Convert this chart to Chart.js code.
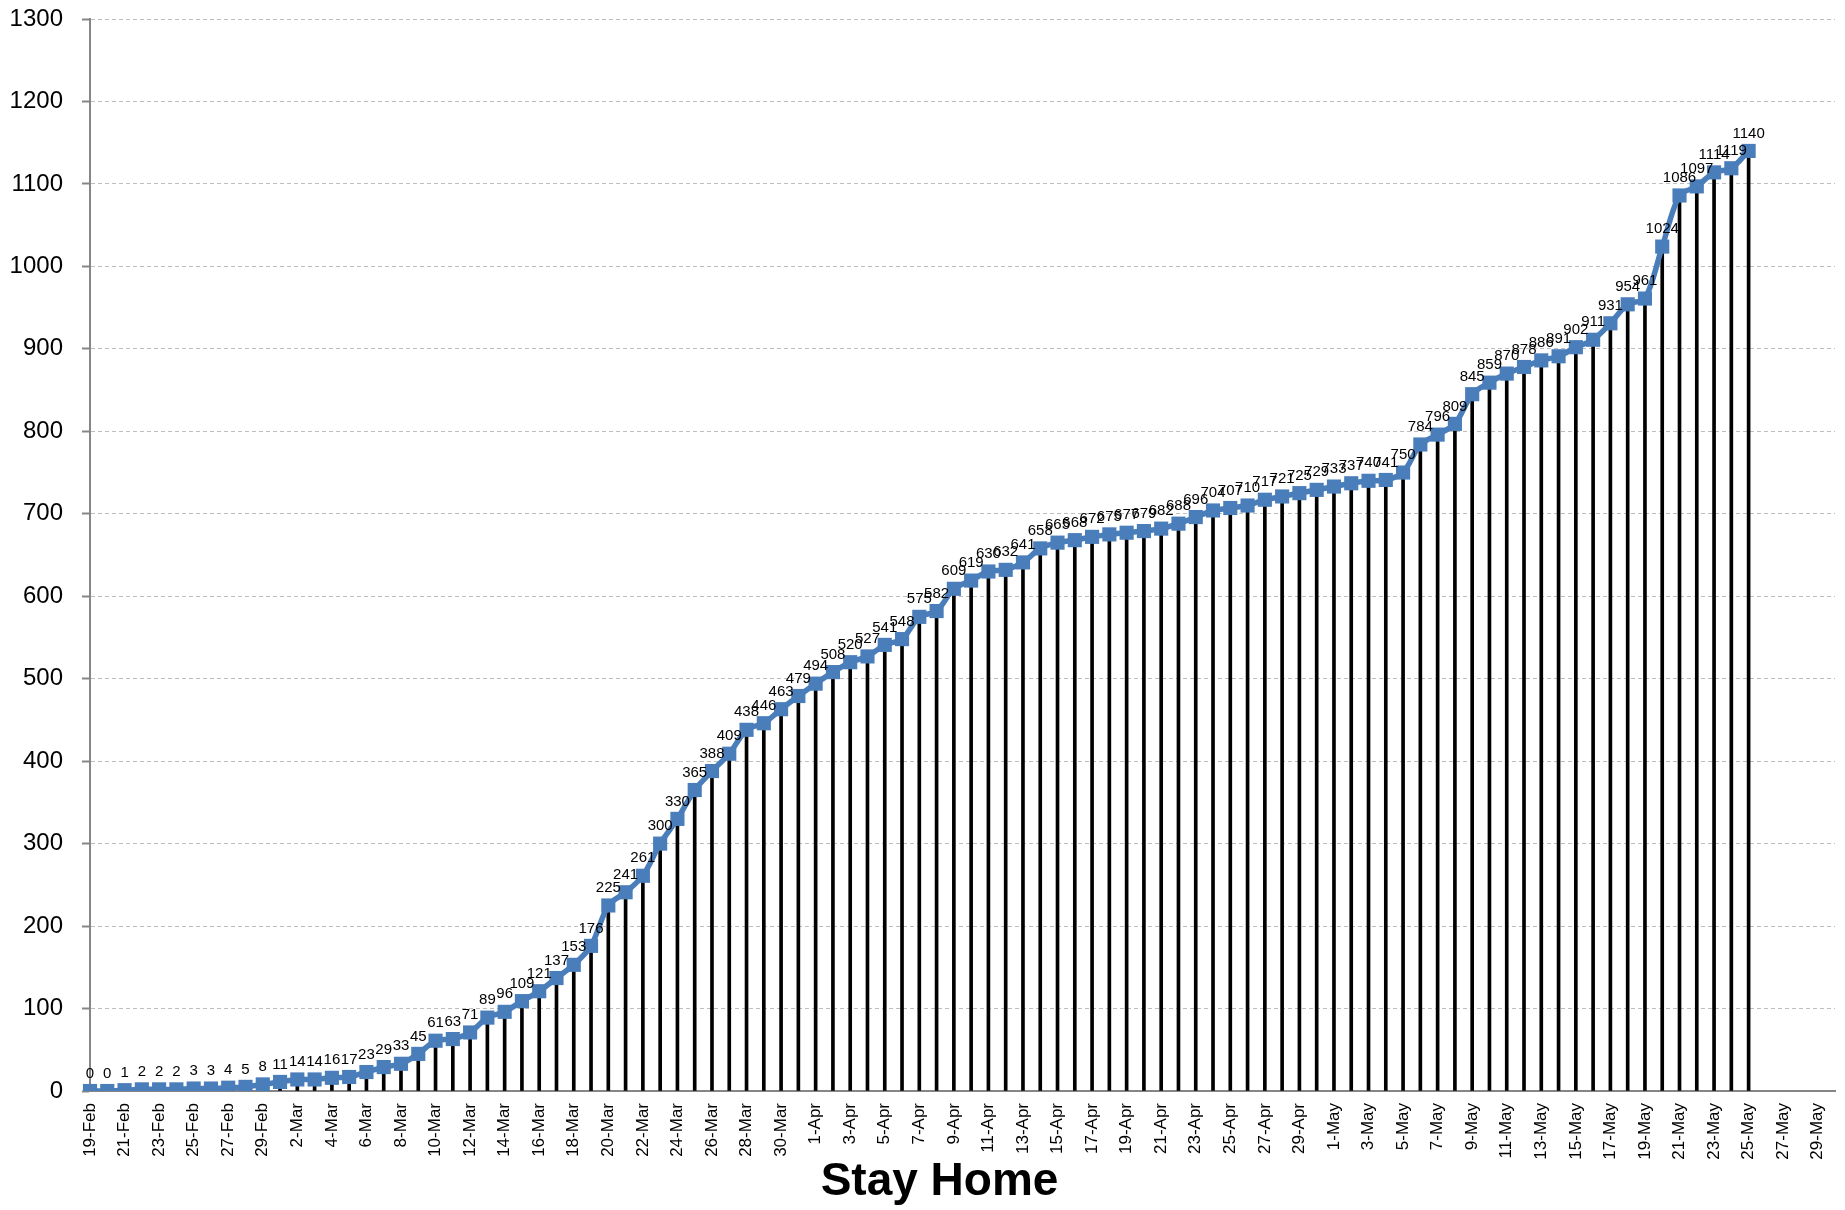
<!DOCTYPE html>
<html>
<head>
<meta charset="utf-8">
<title>Stay Home</title>
<script src="https://cdn.jsdelivr.net/npm/chart.js@4.4.1/dist/chart.umd.min.js"></script>
<style>
  html, body { margin: 0; padding: 0; background: #fff; }
  #wrap { width: 1845px; height: 1210px; position: relative; }
</style>
</head>
<body>
<div id="wrap"><canvas id="stayChart"></canvas></div>
<script>
// Categories: one per day, 19-Feb .. 30-May (axis shows every 2nd one)
const days = [
  '19-Feb','20-Feb','21-Feb','22-Feb','23-Feb','24-Feb','25-Feb','26-Feb','27-Feb','28-Feb','29-Feb',
  '1-Mar','2-Mar','3-Mar','4-Mar','5-Mar','6-Mar','7-Mar','8-Mar','9-Mar','10-Mar',
  '11-Mar','12-Mar','13-Mar','14-Mar','15-Mar','16-Mar','17-Mar','18-Mar','19-Mar','20-Mar',
  '21-Mar','22-Mar','23-Mar','24-Mar','25-Mar','26-Mar','27-Mar','28-Mar','29-Mar','30-Mar','31-Mar',
  '1-Apr','2-Apr','3-Apr','4-Apr','5-Apr','6-Apr','7-Apr','8-Apr','9-Apr','10-Apr',
  '11-Apr','12-Apr','13-Apr','14-Apr','15-Apr','16-Apr','17-Apr','18-Apr','19-Apr','20-Apr',
  '21-Apr','22-Apr','23-Apr','24-Apr','25-Apr','26-Apr','27-Apr','28-Apr','29-Apr','30-Apr',
  '1-May','2-May','3-May','4-May','5-May','6-May','7-May','8-May','9-May','10-May',
  '11-May','12-May','13-May','14-May','15-May','16-May','17-May','18-May','19-May','20-May',
  '21-May','22-May','23-May','24-May','25-May','26-May','27-May','28-May','29-May','30-May'
];

// cumulative cases, 19-Feb .. 25-May
const febCases = [0, 0, 1, 2, 2, 2, 3, 3, 4, 5, 8];
const marCases = [11, 14, 14, 16, 17, 23, 29, 33, 45, 61, 63, 71, 89, 96, 109, 121, 137, 153, 176, 225,
                  241, 261, 300, 330, 365, 388, 409, 438, 446, 463, 479];
const aprCases = [494, 508, 520, 527, 541, 548, 575, 582, 609, 619, 630, 632, 641, 658, 665, 668, 672, 675, 677, 679,
                  682, 688, 696, 704, 707, 710, 717, 721, 725, 729];
const mayCases = [733, 737, 740, 741, 750, 784, 796, 809, 845, 859, 870, 878, 886, 891, 902, 911, 931, 954, 961, 1024,
                  1086, 1097, 1114, 1119, 1140];

const yTicks = [0, 100, 200, 300, 400, 500, 600, 700, 800, 900, 1000, 1100, 1200, 1300];
const axisTitle = 'Stay Home';

const cases = febCases.concat(marCases, aprCases, mayCases);

const BLUE = '#4A7EBB';
const AXIS_GREY = '#868686';

// petites étiquettes au-dessus de chaque point + titre de l'axe
const pointLabels = {
  id: 'pointLabels',
  afterDatasetsDraw(chart) {
    const meta = chart.getDatasetMeta(0);
    const ctx = chart.ctx;
    ctx.save();
    ctx.font = '15px "Liberation Sans", Arial, sans-serif';
    ctx.fillStyle = '#000';
    ctx.textAlign = 'center';
    ctx.textBaseline = 'bottom';
    meta.data.forEach((pt, i) => {
      ctx.fillText(String(cases[i]), pt.x, pt.y - 10);
    });
    ctx.restore();
  },
  afterDraw(chart) {
    // Excel centre le titre sur toute la zone du graphique, pas seulement sur l'axe
    const ctx = chart.ctx;
    ctx.save();
    ctx.font = 'bold 46px "Liberation Sans", Arial, sans-serif';
    ctx.fillStyle = '#000';
    ctx.textAlign = 'center';
    ctx.textBaseline = 'middle';
    ctx.fillText(axisTitle, (chart.chartArea.left + chart.chartArea.right) / 2 - 23, chart.height - 28);
    ctx.restore();
  }
};

const ctx = document.getElementById('stayChart').getContext('2d');
new Chart(ctx, {
  type: 'line',
  data: {
    labels: days,
    datasets: [
      {
        type: 'line',
        label: 'Cases',
        data: cases,
        borderColor: BLUE,
        backgroundColor: BLUE,
        borderWidth: 5.5,
        tension: 0.3,
        pointStyle: 'rect',
        pointRadius: 10,
        pointBorderWidth: 0,
        pointBackgroundColor: BLUE,
        order: 1
      },
      {
        // drop lines
        type: 'bar',
        label: 'drop',
        data: cases,
        backgroundColor: '#000',
        barThickness: 3,
        order: 2
      }
    ]
  },
  options: {
    responsive: true,
    maintainAspectRatio: false,
    animation: false,
    layout: { padding: { top: 19, right: 7, left: 0, bottom: 0 } },
    plugins: {
      legend: { display: false },
      tooltip: { enabled: false }
    },
    scales: {
      x: {
        type: 'category',
        offset: false,
        grid: { display: false, offset: false, drawTicks: false },
        border: { display: true, color: AXIS_GREY, width: 2 },
        ticks: {
          autoSkip: false,
          minRotation: 90,
          maxRotation: 90,
          padding: 12,
          color: '#000',
          font: { family: '"Liberation Sans", Arial, sans-serif', size: 17 },
          callback: function(val, idx) { return idx % 2 === 0 ? this.getLabelForValue(val) : ''; }
        },
        title: { display: false },
        afterFit(scale) {
          scale.height = 119;
          scale.paddingLeft = 0;
          scale.paddingRight = 0;
        }
      },
      y: {
        min: 0,
        max: 1300,
        afterBuildTicks(scale) { scale.ticks = yTicks.map(v => ({ value: v })); },
        grid: {
          color: '#BEBEBE',
          lineWidth: 1,
          drawTicks: true,
          tickLength: 8,
          tickColor: AXIS_GREY,
          tickWidth: 2,
          tickBorderDash: []
        },
        border: { display: true, color: AXIS_GREY, width: 2, dash: [4, 3] },
        ticks: {
          padding: 19,
          color: '#000',
          font: { family: '"Liberation Sans", Arial, sans-serif', size: 24 },
          callback: v => String(v)
        },
        afterFit(scale) {
          scale.width = 90;
          scale.paddingTop = 0;
          scale.paddingBottom = 0;
        }
      }
    }
  },
  plugins: [pointLabels]
});
</script>
</body>
</html>
